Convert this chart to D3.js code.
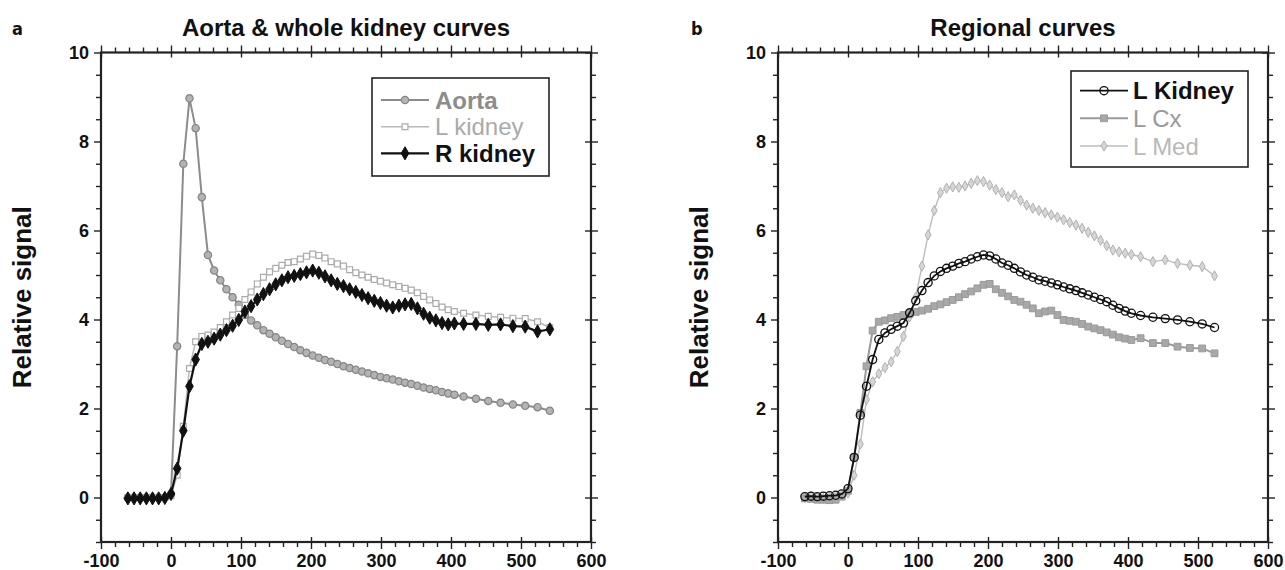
<!DOCTYPE html>
<html><head><meta charset="utf-8">
<script src="https://cdn.jsdelivr.net/npm/d3@7"></script>
<style>body{margin:0;background:#fff} svg{display:block}</style>
</head><body><svg id="chart" width="1285" height="570"></svg>
<script>
// ---- Panel a: aorta and whole-kidney curves ----
const timeA = [-61.6,-52.8,-44,-35.2,-26.4,-17.6,-8.8,0,8.8,17.6,26.4,35.2,44,52.8,61.6,70.4,79.2,88,96.8,105.6,114.4,123.2,132,140.8,149.6,158.4,167.2,176,184.8,193.6,202.4,211.2,220,228.8,237.6,246.4,255.2,264,272.8,281.6,290.4,299.2,308,316.8,325.6,334.4,343.2,352,360.8,369.6,378.4,387.2,396,404.8,418,435.6,453.2,470.8,488.4,506,523.6,541.2];
const aorta = [0,0,0,0,0,0,0,0.08,3.4,7.5,8.97,8.3,6.75,5.45,5.1,4.88,4.68,4.5,4.33,4.1,3.98,3.87,3.76,3.68,3.6,3.52,3.45,3.38,3.31,3.25,3.19,3.14,3.09,3.05,3.0,2.95,2.91,2.87,2.83,2.79,2.75,2.71,2.68,2.65,2.61,2.58,2.55,2.51,2.47,2.44,2.41,2.37,2.34,2.31,2.27,2.22,2.17,2.13,2.09,2.06,2.03,1.95];
const leftKidney = [0,0,0,0,0,0,0,0.04,0.5,1.6,2.9,3.5,3.62,3.65,3.72,3.82,3.95,4.1,4.25,4.45,4.62,4.8,4.95,5.07,5.15,5.22,5.28,5.3,5.36,5.42,5.47,5.44,5.38,5.3,5.25,5.2,5.12,5.05,5.0,4.95,4.9,4.86,4.82,4.78,4.74,4.7,4.66,4.6,4.52,4.44,4.36,4.28,4.22,4.18,4.14,4.1,4.07,4.05,4.03,4.02,3.95,3.82];
const rightKidney = [-0.02,-0.02,-0.02,-0.02,-0.02,-0.02,-0.01,0.08,0.65,1.5,2.5,3.1,3.45,3.5,3.57,3.66,3.76,3.86,3.99,4.18,4.3,4.45,4.57,4.68,4.79,4.88,4.95,4.98,5.02,5.06,5.1,5.05,4.97,4.88,4.8,4.75,4.68,4.62,4.55,4.48,4.42,4.37,4.31,4.27,4.31,4.34,4.35,4.25,4.13,4.04,3.98,3.92,3.89,3.91,3.9,3.9,3.88,3.89,3.85,3.84,3.73,3.78];

// ---- Panel b: regional curves of the left kidney ----
const timeB = [-61.6,-52.8,-44,-35.2,-26.4,-17.6,-8.8,0,8.8,17.6,26.4,35.2,44,52.8,61.6,70.4,79.2,88,96.8,105.6,114.4,123.2,132,140.8,149.6,158.4,167.2,176,184.8,193.6,202.4,211.2,220,228.8,237.6,246.4,255.2,264,272.8,281.6,290.4,299.2,308,316.8,325.6,334.4,343.2,352,360.8,369.6,378.4,387.2,396,404.8,418,435.6,453.2,470.8,488.4,506,523.6];
const kidneyWhole = [0.02,0.03,0.02,0.03,0.04,0.05,0.08,0.2,0.9,1.85,2.5,3.1,3.55,3.7,3.78,3.85,3.92,4.15,4.42,4.65,4.83,4.98,5.08,5.15,5.2,5.26,5.3,5.36,5.41,5.45,5.43,5.36,5.27,5.22,5.15,5.07,5.0,4.95,4.89,4.86,4.82,4.78,4.73,4.69,4.65,4.6,4.55,4.5,4.45,4.4,4.32,4.25,4.19,4.14,4.09,4.05,4.02,3.99,3.95,3.9,3.82];
const cortex = [-0.02,-0.03,-0.05,-0.05,-0.06,-0.05,0.02,0.15,0.9,1.9,2.95,3.75,3.95,3.98,4.03,4.06,4.1,4.13,4.17,4.2,4.24,4.3,4.34,4.39,4.44,4.5,4.57,4.63,4.7,4.78,4.8,4.68,4.6,4.52,4.44,4.4,4.33,4.25,4.14,4.18,4.2,4.1,3.99,3.97,3.95,3.9,3.84,3.8,3.76,3.71,3.66,3.6,3.57,3.54,3.58,3.47,3.47,3.39,3.36,3.35,3.24];
const medulla = [0.0,0.02,0.0,-0.02,0.0,0.02,0.05,0.1,0.5,1.2,2.2,2.6,2.78,2.92,3.05,3.28,3.62,4.06,4.5,5.2,5.9,6.45,6.85,6.95,6.98,6.97,7.0,7.06,7.12,7.1,7.02,6.92,6.85,6.76,6.8,6.68,6.57,6.5,6.45,6.4,6.35,6.3,6.24,6.18,6.12,6.05,5.96,5.88,5.78,5.66,5.56,5.52,5.49,5.46,5.41,5.3,5.34,5.26,5.22,5.19,4.98];

// ---- Axis ticks ----
const xMajor = [-100, 0, 100, 200, 300, 400, 500, 600];
const xMinor = [-80,-60,-40,-20,20,40,60,80,120,140,160,180,220,240,260,280,320,340,360,380,420,440,460,480,520,540,560,580];
const yMajor = [0, 2, 4, 6, 8, 10];
const yMinor = [-1,-0.5,0.5,1,1.5,2.5,3,3.5,4.5,5,5.5,6.5,7,7.5,8.5,9,9.5];

const panelLetters = ["a", "b"];
const panelTitles = ["Aorta & whole kidney curves", "Regional curves"];
const yTitle = "Relative signal";

const FONT = "'Liberation Sans', Arial, Helvetica, sans-serif";
const svg = d3.select("#chart");

const panels = [
  { x0: 101, x1: 591, letterX: 12, yLabelX: 31 },
  { x0: 778, x1: 1268, letterX: 691, yLabelX: 708 }
];
const yTop = 52.5, yBottom = 542;

function symbolPath(type, size) {
  return d3.symbol().type(type).size(size)();
}

// plain hyphen-minus for negative tick values
const plainNumber = d => String(d);

function drawPanel(i, seriesList, legend) {
  const p = panels[i];
  const x = d3.scaleLinear().domain([-100, 600]).range([p.x0, p.x1]);
  const y = d3.scaleLinear().domain([-1, 10]).range([yBottom, yTop]);
  const g = svg.append("g");

  // letter, title and y-axis title
  svg.append("text").attr("x", p.letterX).attr("y", 35)
    .attr("font-family", "'Liberation Sans Narrow', 'DejaVu Sans Condensed', sans-serif")
    .attr("font-weight", "bold").attr("font-size", 18).attr("fill", "#111")
    .text(panelLetters[i]);
  svg.append("text").attr("x", (p.x0 + p.x1) / 2).attr("y", 36)
    .attr("text-anchor", "middle").attr("font-family", FONT)
    .attr("font-weight", "bold").attr("font-size", 24).attr("fill", "#111")
    .text(panelTitles[i]);
  svg.append("text")
    .attr("transform", `translate(${p.yLabelX},${(yTop + yBottom) / 2}) rotate(-90)`)
    .attr("text-anchor", "middle").attr("font-family", FONT)
    .attr("font-weight", "bold").attr("font-size", 26).attr("fill", "#111")
    .text(yTitle);

  // axes: minor ticks outside, major ticks crossing the frame
  const axStyle = sel => {
    sel.select(".domain").remove();
    sel.selectAll("line").attr("stroke", "#222").attr("stroke-width", 1.4);
    sel.selectAll("text").attr("font-family", FONT).attr("font-weight", "bold")
      .attr("font-size", 18).attr("fill", "#111");
  };
  const add = (axis, tx, ty) => g.append("g").attr("transform", `translate(${tx},${ty})`).call(axis).call(axStyle);

  add(d3.axisBottom(x).tickValues(xMinor).tickSize(5).tickFormat(""), 0, yBottom);
  add(d3.axisBottom(x).tickValues(xMajor).tickSize(7).tickPadding(5).tickFormat(plainNumber), 0, yBottom);
  add(d3.axisBottom(x).tickValues(xMajor).tickSize(-5).tickFormat(""), 0, yBottom);
  add(d3.axisTop(x).tickValues(xMinor).tickSize(5).tickFormat(""), 0, yTop);
  add(d3.axisTop(x).tickValues(xMajor).tickSize(7).tickFormat(""), 0, yTop);
  add(d3.axisTop(x).tickValues(xMajor).tickSize(-5).tickFormat(""), 0, yTop);
  add(d3.axisLeft(y).tickValues(yMinor).tickSize(5).tickFormat(""), p.x0, 0);
  add(d3.axisLeft(y).tickValues(yMajor).tickSize(7).tickPadding(5).tickFormat(plainNumber), p.x0, 0);
  add(d3.axisRight(y).tickValues(yMinor).tickSize(5).tickFormat(""), p.x1, 0);
  add(d3.axisRight(y).tickValues(yMajor).tickSize(7).tickFormat(""), p.x1, 0);
  add(d3.axisRight(y).tickValues(yMajor).tickSize(-6).tickFormat(""), p.x1, 0);

  g.append("rect").attr("x", p.x0).attr("y", yTop)
    .attr("width", p.x1 - p.x0).attr("height", yBottom - yTop)
    .attr("fill", "none").attr("stroke", "#222").attr("stroke-width", 2.2);

  // series: line plus symbol at every sample
  seriesList.forEach(s => {
    const pts = s.t.map((t, k) => [t, s.v[k]]);
    g.append("path").datum(pts)
      .attr("d", d3.line().x(d => x(d[0])).y(d => y(d[1])))
      .attr("fill", "none").attr("stroke", s.line).attr("stroke-width", s.lw);
    g.append("g").selectAll("path").data(pts).join("path")
      .attr("transform", d => `translate(${x(d[0])},${y(d[1])})`)
      .attr("d", symbolPath(s.sym, s.size))
      .attr("fill", s.fill).attr("stroke", s.stroke).attr("stroke-width", s.sw);
  });

  // legend
  const lg = svg.append("g");
  lg.append("rect").attr("x", legend.x).attr("y", legend.y)
    .attr("width", legend.w).attr("height", legend.h)
    .attr("fill", "#fff").attr("stroke", "#222").attr("stroke-width", 1.6);
  legend.order.forEach((idx, r) => {
    const s = seriesList[idx];
    const cy = legend.rowY[r];
    lg.append("line").attr("x1", legend.lx0).attr("x2", legend.lx1)
      .attr("y1", cy).attr("y2", cy).attr("stroke", s.line).attr("stroke-width", s.lw);
    lg.append("path").attr("transform", `translate(${(legend.lx0 + legend.lx1) / 2},${cy})`)
      .attr("d", symbolPath(s.sym, s.size))
      .attr("fill", s.fill).attr("stroke", s.stroke).attr("stroke-width", s.sw);
    lg.append("text").attr("x", legend.tx).attr("y", cy + 8.5)
      .attr("font-family", FONT).attr("font-size", 24)
      .attr("font-weight", s.bold ? "bold" : "normal").attr("fill", s.text)
      .text(s.name);
  });
}

drawPanel(0, [
  { name: "Aorta", t: timeA, v: aorta, line: "#8c8c8c", lw: 2, sym: d3.symbolCircle, size: 42,
    fill: "#b3b3b3", stroke: "#858585", sw: 1.2, text: "#8c8c8c", bold: true },
  { name: "L kidney", t: timeA, v: leftKidney, line: "#b8b8b8", lw: 1.5, sym: d3.symbolSquare, size: 34,
    fill: "#fff", stroke: "#ababab", sw: 1.2, text: "#aaaaaa", bold: false },
  { name: "R kidney", t: timeA, v: rightKidney, line: "#111", lw: 2.2, sym: d3.symbolDiamond, size: 50,
    fill: "#111", stroke: "#111", sw: 1, text: "#111", bold: true }
], { x: 372, y: 78, w: 177, h: 98, lx0: 381, lx1: 429, tx: 435, rowY: [100, 126.7, 153.3], order: [0, 1, 2] });

drawPanel(1, [
  { name: "L Med", t: timeB, v: medulla, line: "#bdbdbd", lw: 1.4, sym: d3.symbolDiamond, size: 30,
    fill: "#d6d6d6", stroke: "#b0b0b0", sw: 1, text: "#b8b8b8", bold: false },
  { name: "L Cx", t: timeB, v: cortex, line: "#9a9a9a", lw: 2, sym: d3.symbolSquare, size: 46,
    fill: "#a8a8a8", stroke: "#999", sw: 1, text: "#999999", bold: false },
  { name: "L Kidney", t: timeB, v: kidneyWhole, line: "#111", lw: 1.8, sym: d3.symbolCircle, size: 52,
    fill: "none", stroke: "#111", sw: 1.3, text: "#111", bold: true }
], { x: 1071, y: 71, w: 177, h: 96, lx0: 1080, lx1: 1128, tx: 1133, rowY: [90.7, 118.3, 146], order: [2, 1, 0] });
</script></body></html>
